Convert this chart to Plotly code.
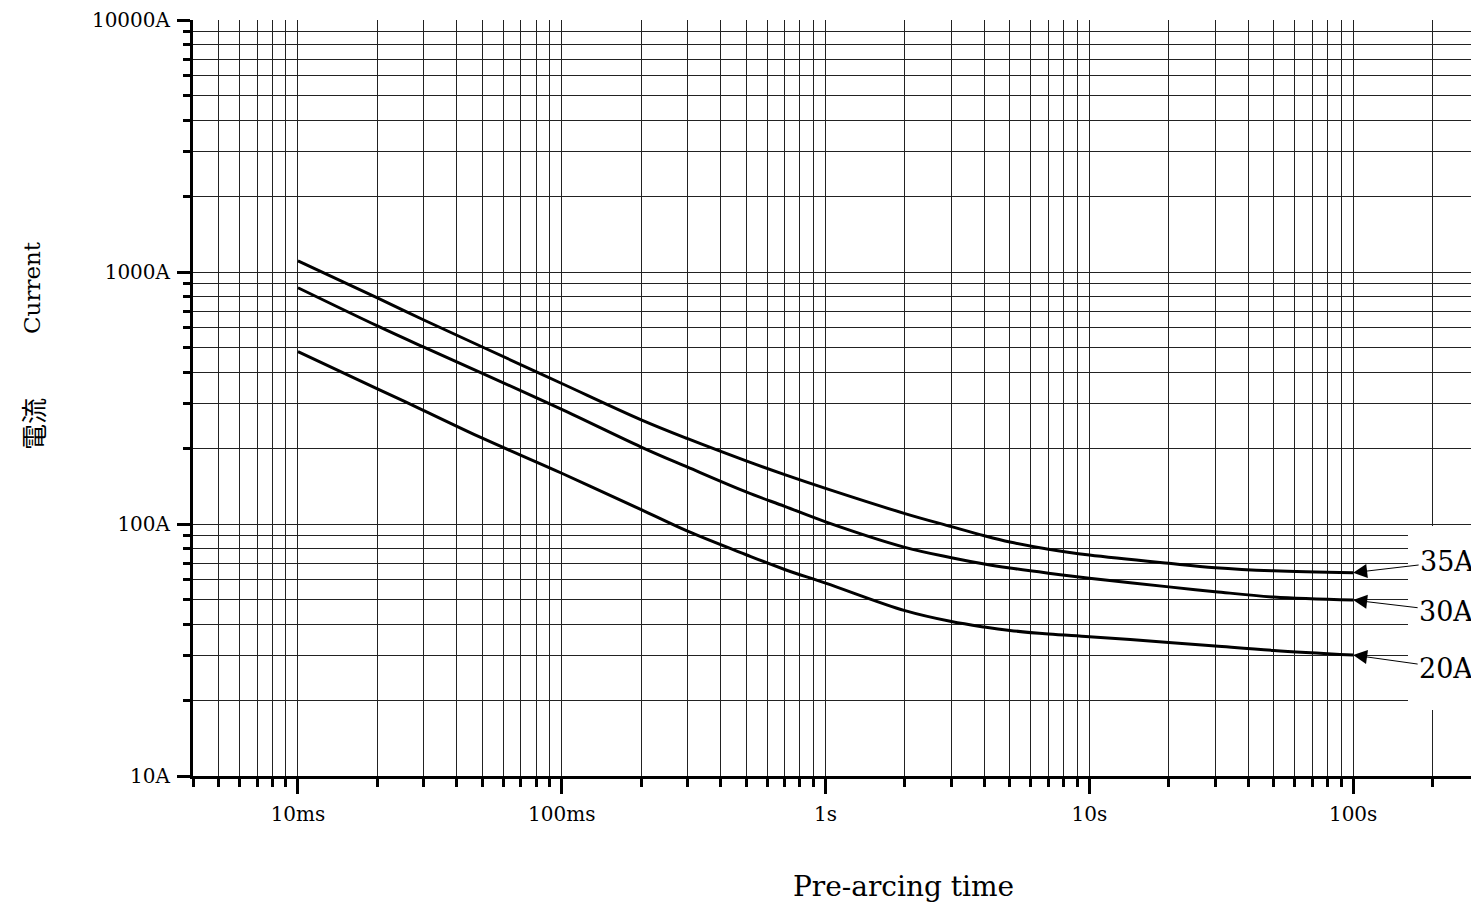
import math
import plotly.graph_objects as go

# ---- data ----
times = [0.01, 0.02, 0.03, 0.05, 0.1, 0.2, 0.3, 0.5, 0.7, 1, 2, 3, 4, 5, 7, 10, 20, 30, 50, 100]
i35 = [1106, 789, 645, 504, 361, 259, 218, 178, 157, 138.5, 110, 97.6, 89.8, 84.8, 79.4, 75.3, 69.8, 67.1, 65.2, 64.1]
i30 = [866, 611, 503, 396, 285, 202, 168, 134, 117.5, 102, 80.8, 73.5, 69.4, 66.9, 63.8, 60.9, 56.3, 53.9, 51.3, 49.9]
i20 = [483, 344, 282, 219, 159, 114, 93.6, 75.5, 66.0, 58.3, 45.3, 41.0, 39.0, 37.8, 36.6, 35.7, 33.9, 32.8, 31.5, 30.2]

series_names = ["35A", "30A", "20A"]
series_values = [i35, i30, i20]

x_tick_vals = [0.01, 0.1, 1, 10, 100]
x_tick_text = ["10ms", "100ms", "1s", "10s", "100s"]
x_minor_vals = [0.004, 0.005, 0.006, 0.007, 0.008, 0.009,
                0.02, 0.03, 0.04, 0.05, 0.06, 0.07, 0.08, 0.09,
                0.2, 0.3, 0.4, 0.5, 0.6, 0.7, 0.8, 0.9,
                2, 3, 4, 5, 6, 7, 8, 9,
                20, 30, 40, 50, 60, 70, 80, 90, 200]
y_tick_vals = [10, 100, 1000, 10000]
y_tick_text = ["10A", "100A", "1000A", "10000A"]
y_minor_vals = [20, 30, 40, 50, 60, 70, 80, 90,
                200, 300, 400, 500, 600, 700, 800, 900,
                2000, 3000, 4000, 5000, 6000, 7000, 8000, 9000]

x_range = [0.004, 300]
y_range = [10, 10000]

FONT = "DejaVu Serif"
GRID = "#222222"

fig = go.Figure()
for name, vals in zip(series_names, series_values):
    fig.add_trace(go.Scatter(
        x=times, y=vals, mode="lines", name=name,
        line=dict(color="black", width=3, shape="spline", smoothing=1.0),
        showlegend=False, hoverinfo="skip"))

# the page body adds an 8px offset, so the figure is made 8px smaller
OFF = 8
W, H = 1479 - OFF, 905 - OFF
ML, MR, MT, MB = 193 - OFF, 0, 20 - OFF, 129
PW, PH = W - ML - MR, H - MT - MB
PLOT_LEFT, PLOT_BOTTOM = 193, 776  # in screenshot pixels


def px_to_paper_x(px):
    return (px - PLOT_LEFT) / PW


def px_to_paper_y(py):
    return (PLOT_BOTTOM - py) / PH


# white box behind the curve labels
fig.add_shape(type="rect", xref="paper", yref="paper",
              x0=px_to_paper_x(1408), x1=1.0,
              y0=px_to_paper_y(710), y1=px_to_paper_y(526),
              fillcolor="white", line=dict(width=0), layer="above")

# curve labels with arrows
label_offsets = {"35A": (94, -11), "30A": (93, 11), "20A": (93, 13)}
for name, vals in zip(series_names, series_values):
    ax, ay = label_offsets[name]
    fig.add_annotation(
        x=math.log10(times[-1]), y=math.log10(vals[-1]), xref="x", yref="y",
        text=name, showarrow=True, ax=ax, ay=ay,
        arrowhead=2, arrowsize=2.8, arrowwidth=1, arrowcolor="black",
        standoff=0, startstandoff=0,
        font=dict(family=FONT, size=27, color="black"),
        bgcolor="rgba(0,0,0,0)")

# axis titles
fig.add_annotation(text="Pre-arcing time", xref="paper", yref="paper",
                   x=px_to_paper_x(904), y=px_to_paper_y(886),
                   xanchor="center", yanchor="middle", showarrow=False,
                   font=dict(family=FONT, size=28, color="black"))
fig.add_annotation(text="Current", xref="paper", yref="paper",
                   x=px_to_paper_x(32), y=px_to_paper_y(287),
                   xanchor="center", yanchor="middle", showarrow=False, textangle=-90,
                   font=dict(family=FONT, size=23, color="black"))
fig.add_annotation(text="電流", xref="paper", yref="paper",
                   x=px_to_paper_x(32), y=px_to_paper_y(424),
                   xanchor="center", yanchor="middle", showarrow=False, textangle=-90,
                   font=dict(family="Noto Sans CJK JP", size=26, color="black"))

fig.update_xaxes(
    type="log", range=[math.log10(x_range[0]), math.log10(x_range[1])],
    showline=True, linewidth=3, linecolor="black", mirror=False,
    ticks="outside", ticklen=15, tickwidth=2.5, tickcolor="black",
    tickmode="array", tickvals=x_tick_vals, ticktext=x_tick_text,
    tickfont=dict(family=FONT, size=20, color="black"), ticklabelstandoff=3,
    showgrid=True, gridcolor=GRID, gridwidth=1, zeroline=False,
    minor=dict(tickmode="array", tickvals=x_minor_vals, ticks="outside",
               ticklen=8, tickwidth=2.5, tickcolor="black",
               showgrid=True, gridcolor=GRID, gridwidth=1))
fig.update_yaxes(
    type="log", range=[math.log10(y_range[0]), math.log10(y_range[1])],
    showline=True, linewidth=3, linecolor="black", mirror=False,
    ticks="outside", ticklen=13, tickwidth=2.5, tickcolor="black",
    tickmode="array", tickvals=y_tick_vals, ticktext=y_tick_text,
    tickfont=dict(family=FONT, size=20, color="black"), ticklabelstandoff=3,
    showgrid=True, gridcolor=GRID, gridwidth=1, zeroline=False,
    minor=dict(tickmode="array", tickvals=y_minor_vals, ticks="outside",
               ticklen=7, tickwidth=2.5, tickcolor="black",
               showgrid=True, gridcolor=GRID, gridwidth=1))

fig.update_layout(
    width=W, height=H, autosize=False,
    margin=dict(l=ML, r=MR, t=MT, b=MB, pad=0),
    paper_bgcolor="white", plot_bgcolor="white",
    font=dict(family=FONT, color="black"),
    showlegend=False)

fig.write_html("out.html")
